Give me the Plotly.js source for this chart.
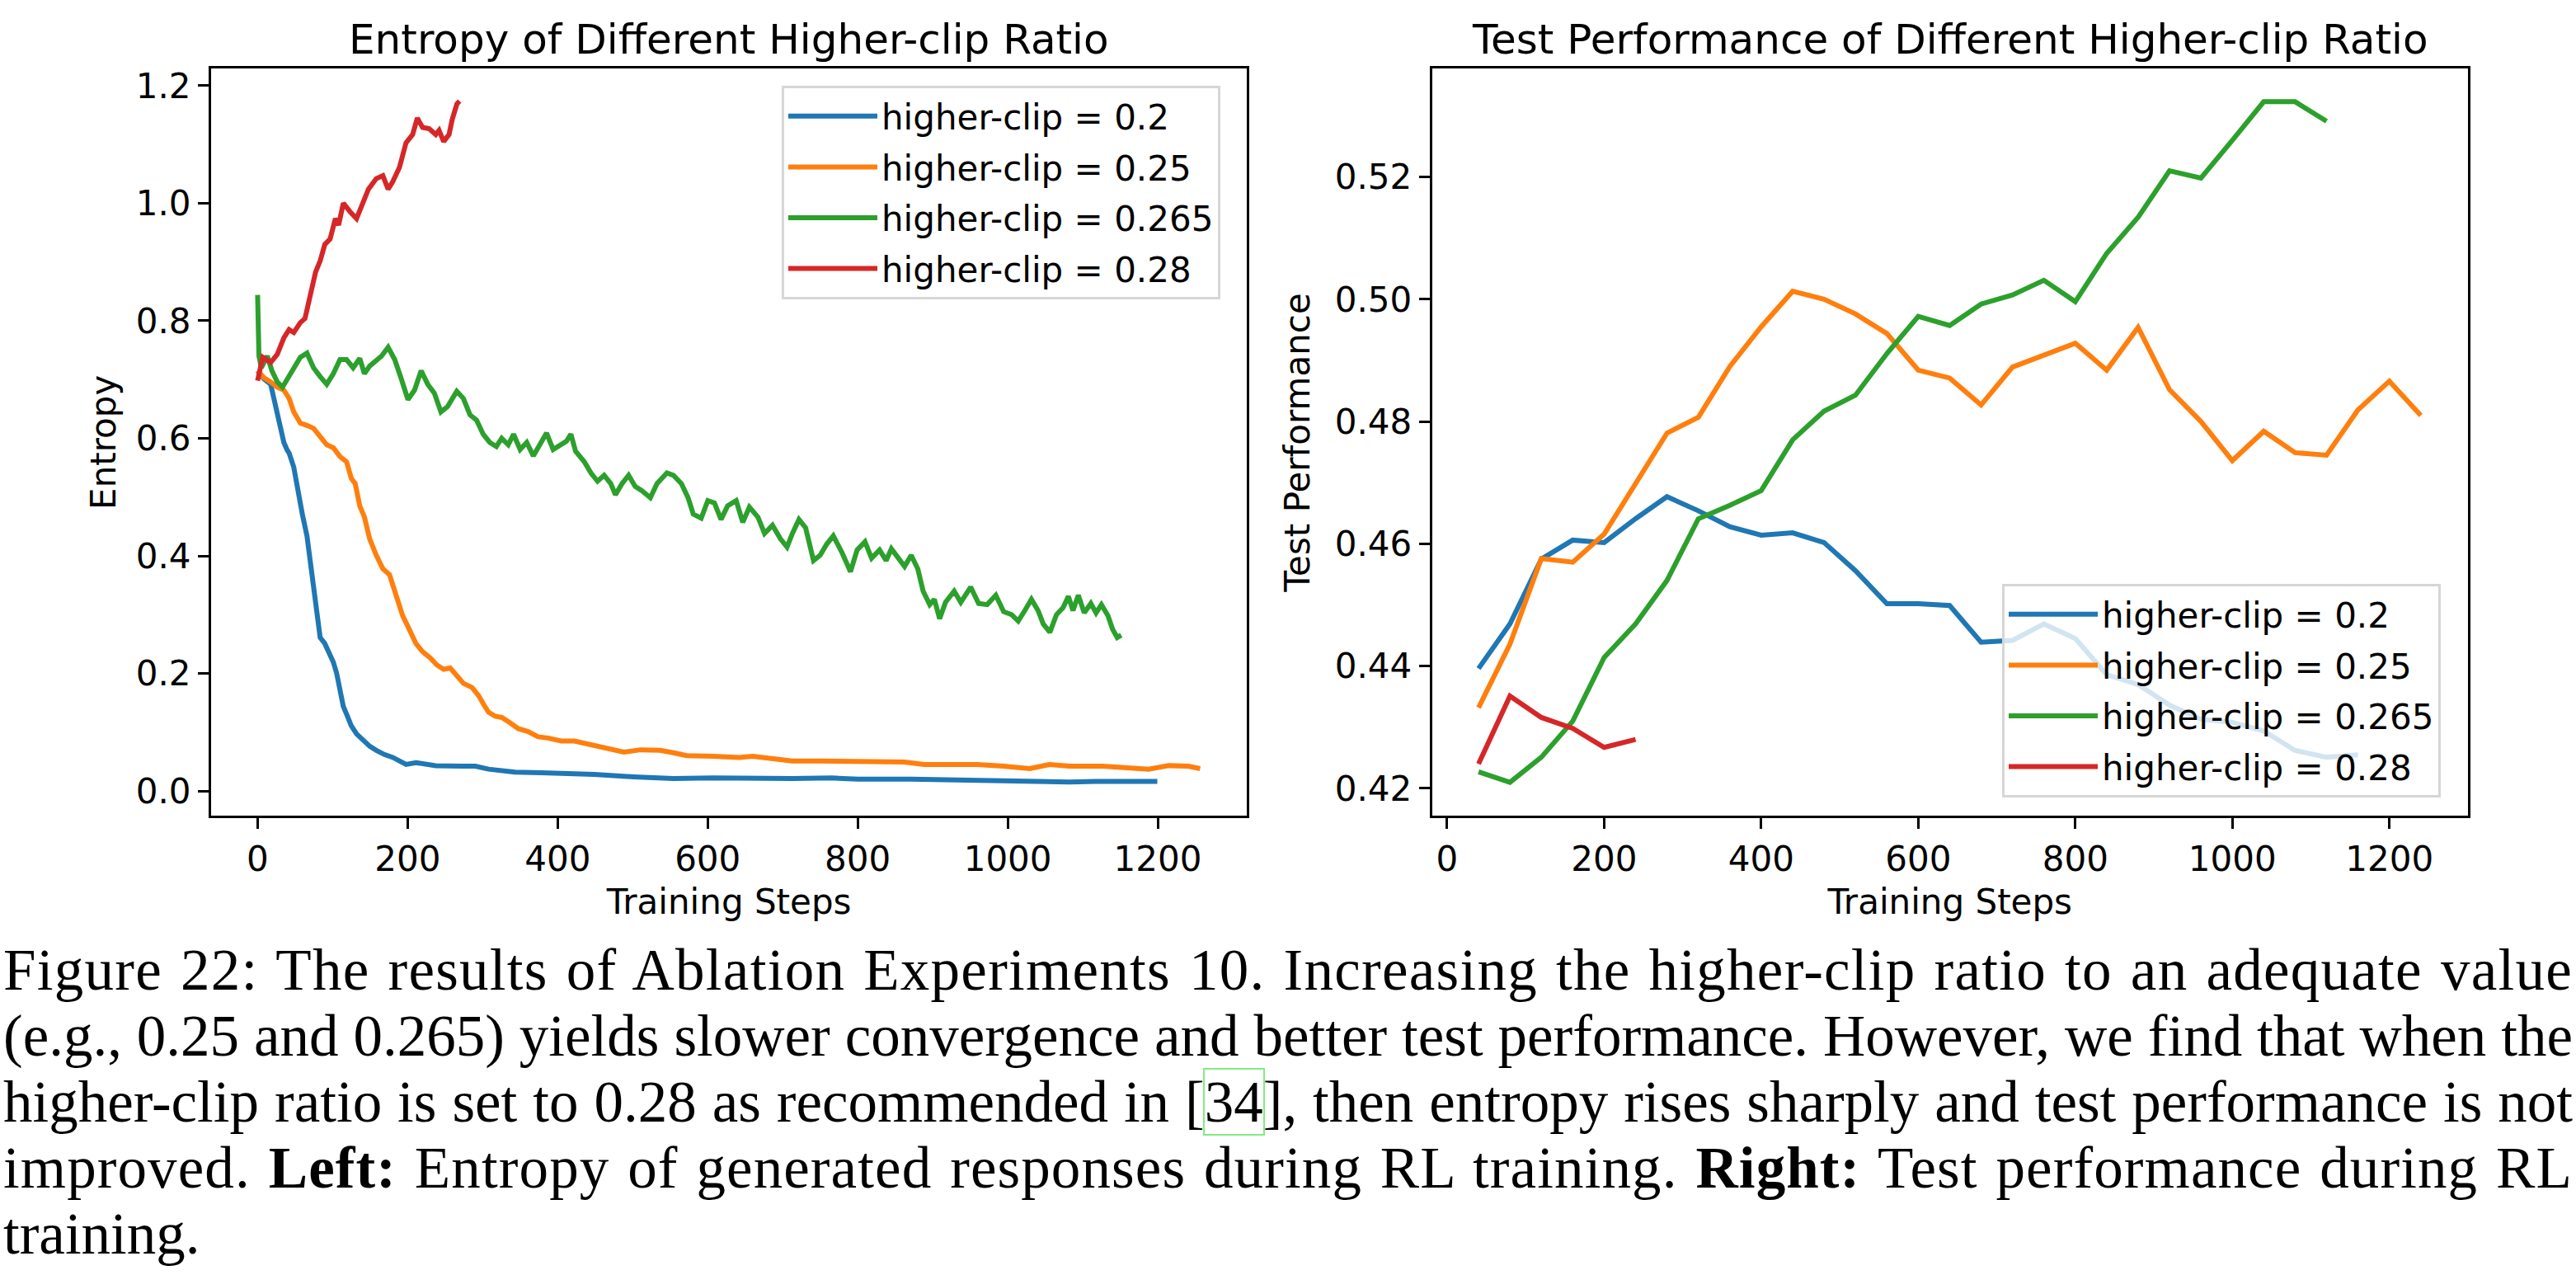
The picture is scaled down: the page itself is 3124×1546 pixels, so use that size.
<!DOCTYPE html>
<html>
<head>
<meta charset="utf-8">
<script src="https://cdn.plot.ly/plotly-3.0.1.min.js"></script>
<style>
  html, body { margin: 0; padding: 0; background: #ffffff; }
  #wrap { position: relative; width: 3124px; height: 1546px; overflow: hidden; background: #fff; }
  #chart { position: absolute; left: 0; top: 0; width: 3124px; height: 1546px; }
  #caption { position: absolute; left: 4px; top: 1136px; width: 3116px;
             font-family: "Liberation Serif", "DejaVu Serif", serif; font-size: 71px;
             line-height: 80px; color: #000; }
  .ln { white-space: nowrap; display: block; }
  .ln b { font-weight: bold; }
  .cite { outline: 2px solid rgb(130, 235, 130); outline-offset: 0px; }
</style>
</head>
<body>
<div id="wrap">
  <div id="chart"></div>
  <div id="caption">
    <div class="ln"><span>Figure 22: The results of Ablation Experiments 10. Increasing the higher-clip ratio to an adequate value</span></div>
    <div class="ln"><span>(e.g., 0.25 and 0.265) yields slower convergence and better test performance. However, we find that when the</span></div>
    <div class="ln"><span>higher-clip ratio is set to 0.28 as recommended in [<span class="cite">34</span>], then entropy rises sharply and test performance is not</span></div>
    <div class="ln"><span>improved. <b>Left:</b> Entropy of generated responses during RL training. <b>Right:</b> Test performance during RL</span></div>
    <div class="ln last"><span>training.</span></div>
  </div>
</div>
<script>
// ---------------- Left panel: entropy ----------------
const entropyLabels = ['higher-clip = 0.2', 'higher-clip = 0.25', 'higher-clip = 0.265', 'higher-clip = 0.28'];
const colors = ['#1f77b4', '#ff7f0e', '#2ca02c', '#d62728'];

const entStep_020 = [0, 8.6, 17.4, 21.8, 26.2, 30.6, 35, 39.4, 42, 48.2, 52.6, 59.6, 65.8, 70.2, 74.6, 79, 83.4, 89.5, 94.8, 101, 105.4, 109.8, 114.2, 120.4, 124.8, 131.9, 140.7, 149.5, 158.3, 168.9, 180.3, 189.1, 197.9, 211.1, 237.5, 272.7, 290.3, 307.9, 343.1, 378.3, 413.5, 448.7, 501.5, 554.3, 607.1, 659.9, 712.7, 765.5, 800.7, 871.1, 941.5, 1011.9, 1038.3, 1082.3, 1117.5, 1199.4];
const entropy_020 = [0.715, 0.701, 0.692, 0.668, 0.640, 0.612, 0.593, 0.580, 0.575, 0.551, 0.518, 0.471, 0.434, 0.387, 0.340, 0.298, 0.261, 0.251, 0.237, 0.219, 0.200, 0.167, 0.144, 0.125, 0.111, 0.097, 0.085, 0.076, 0.069, 0.062, 0.057, 0.051, 0.045, 0.048, 0.043, 0.042, 0.042, 0.037, 0.032, 0.031, 0.030, 0.028, 0.024, 0.021, 0.022, 0.021, 0.021, 0.022, 0.020, 0.020, 0.018, 0.017, 0.015, 0.015, 0.016, 0.016];

const entStep_025 = [0, 8.6, 17.4, 26.2, 35, 42, 48.2, 57, 65.8, 74.6, 83.4, 92.2, 101, 109.8, 118.6, 124.9, 130.1, 136.2, 142.4, 149.4, 158.2, 167, 175.8, 184.6, 193.4, 202.2, 211, 219.8, 230.4, 239.2, 248, 256.8, 265.6, 274.4, 285.9, 294.7, 300.9, 307.9, 316.7, 325.5, 334.3, 347.5, 360.7, 373.9, 387.1, 404.7, 422.3, 439.9, 457.5, 475.1, 488.3, 510.3, 536.7, 554.3, 571.9, 607.1, 642.3, 659.9, 686.3, 712.7, 747.9, 783.1, 818.3, 862.3, 888.7, 923.9, 959.1, 994.3, 1029.5, 1055.9, 1082.3, 1126.3, 1170.3, 1187.9, 1214.3, 1240.7, 1256.5];
const entropy_025 = [0.715, 0.703, 0.696, 0.687, 0.682, 0.668, 0.645, 0.626, 0.622, 0.617, 0.603, 0.589, 0.584, 0.569, 0.560, 0.532, 0.523, 0.485, 0.466, 0.429, 0.401, 0.378, 0.368, 0.335, 0.298, 0.275, 0.251, 0.237, 0.226, 0.214, 0.207, 0.209, 0.197, 0.183, 0.176, 0.162, 0.148, 0.134, 0.127, 0.125, 0.118, 0.106, 0.101, 0.092, 0.090, 0.085, 0.085, 0.080, 0.076, 0.071, 0.066, 0.070, 0.069, 0.065, 0.060, 0.059, 0.057, 0.059, 0.055, 0.051, 0.051, 0.050, 0.049, 0.049, 0.045, 0.045, 0.045, 0.042, 0.038, 0.045, 0.042, 0.042, 0.038, 0.037, 0.043, 0.042, 0.038];

const entStep_0265 = [0, 1.8, 5, 13, 19.1, 26.2, 33.2, 39.4, 48.2, 57, 65.8, 74.6, 83.4, 92.2, 101, 109.8, 118.6, 127.4, 136.2, 142.4, 149.4, 158.2, 165.2, 174, 182.8, 191.6, 200.4, 209.2, 218, 226.8, 235.6, 244.4, 253.2, 265.5, 274.3, 283.1, 291.9, 300.7, 309.5, 318.3, 325.4, 334.2, 341.2, 350, 358.8, 367.6, 376.4, 385.2, 394, 402.8, 411.6, 417.7, 423.9, 435.6, 444.4, 453.2, 462, 470.8, 477, 485.8, 494.6, 503.4, 512.2, 523.6, 532.4, 545.6, 554.4, 565, 573.8, 580.8, 591.4, 600.2, 609, 617.8, 626.6, 638, 646.8, 655.6, 667, 675.8, 686.4, 697, 705.8, 712.9, 721.7, 730.5, 741.1, 749.9, 758.7, 767.5, 778.9, 790.4, 799.2, 809.7, 818.5, 829.1, 837.9, 844.9, 853.7, 862.5, 871.3, 880.1, 887.2, 896, 902.2, 909.2, 917.1, 928.6, 937.4, 950.6, 961.2, 972.6, 984.1, 994.6, 1005.2, 1014, 1022.8, 1031.6, 1040.4, 1047.4, 1056.2, 1065, 1073.8, 1080.9, 1087, 1094.1, 1102, 1110.8, 1117.8, 1124.9, 1133.7, 1139.8, 1146, 1151.3];
const entropy_0265 = [0.844, 0.740, 0.720, 0.740, 0.715, 0.696, 0.687, 0.701, 0.717, 0.738, 0.745, 0.720, 0.705, 0.692, 0.710, 0.734, 0.734, 0.720, 0.736, 0.710, 0.723, 0.734, 0.740, 0.755, 0.734, 0.701, 0.666, 0.682, 0.715, 0.692, 0.677, 0.645, 0.654, 0.680, 0.668, 0.640, 0.631, 0.607, 0.593, 0.586, 0.600, 0.589, 0.607, 0.581, 0.593, 0.570, 0.591, 0.609, 0.581, 0.589, 0.595, 0.607, 0.578, 0.560, 0.541, 0.527, 0.537, 0.523, 0.504, 0.523, 0.537, 0.518, 0.511, 0.499, 0.523, 0.541, 0.537, 0.523, 0.499, 0.471, 0.464, 0.494, 0.490, 0.462, 0.485, 0.494, 0.457, 0.483, 0.466, 0.438, 0.452, 0.429, 0.415, 0.438, 0.462, 0.448, 0.392, 0.401, 0.420, 0.434, 0.406, 0.373, 0.410, 0.424, 0.396, 0.410, 0.392, 0.412, 0.396, 0.382, 0.401, 0.378, 0.340, 0.317, 0.326, 0.293, 0.321, 0.340, 0.321, 0.347, 0.319, 0.317, 0.333, 0.305, 0.300, 0.289, 0.307, 0.326, 0.307, 0.284, 0.270, 0.300, 0.312, 0.331, 0.307, 0.333, 0.303, 0.319, 0.303, 0.317, 0.298, 0.275, 0.261, 0.265];

const entStep_028 = [0, 6.8, 17.4, 26.2, 35, 42, 48.2, 57, 63.2, 70.2, 77.3, 83.4, 89.6, 96.6, 103.7, 108, 114.3, 123, 131.9, 138.9, 147.7, 158.2, 167, 174, 180.3, 189.1, 197.9, 206.7, 212.9, 219.9, 228.7, 237.5, 241.9, 248, 255.2, 259.5, 265.7, 269.2];
const entropy_028 = [0.698, 0.738, 0.729, 0.743, 0.771, 0.785, 0.780, 0.797, 0.804, 0.841, 0.883, 0.902, 0.930, 0.939, 0.974, 0.963, 1.000, 0.986, 0.974, 0.996, 1.024, 1.042, 1.047, 1.024, 1.037, 1.061, 1.103, 1.117, 1.145, 1.129, 1.127, 1.117, 1.124, 1.105, 1.117, 1.143, 1.169, 1.174];

// ---------------- Right panel: test performance ----------------
const testSteps = [40, 80, 120, 160, 200, 240, 280, 320, 360, 400, 440, 480, 520, 560, 600, 640, 680, 720, 760, 800, 840, 880, 920, 960, 1000, 1040, 1080, 1120, 1160, 1200, 1240];
const test_020 = [0.4396, 0.4469, 0.4575, 0.4606, 0.4602, 0.4641, 0.4677, 0.4654, 0.4628, 0.4614, 0.4618, 0.4602, 0.4556, 0.4502, 0.4502, 0.4499, 0.4439, 0.4442, 0.4469, 0.4445, 0.4386, 0.4370, 0.4336, 0.4313, 0.4308, 0.4294, 0.4262, 0.4251, 0.4255];
const test_025 = [0.4332, 0.4436, 0.4576, 0.4570, 0.4616, 0.4698, 0.4781, 0.4807, 0.4890, 0.4955, 0.5013, 0.5000, 0.4976, 0.4944, 0.4884, 0.4871, 0.4827, 0.4889, 0.4909, 0.4928, 0.4884, 0.4954, 0.4852, 0.4800, 0.4736, 0.4784, 0.4749, 0.4745, 0.4819, 0.4866, 0.4810];
const test_0265 = [0.4227, 0.4210, 0.4251, 0.4310, 0.4414, 0.4469, 0.4540, 0.4641, 0.4663, 0.4687, 0.4770, 0.4817, 0.4843, 0.4911, 0.4972, 0.4957, 0.4992, 0.5007, 0.5031, 0.4996, 0.5075, 0.5134, 0.5210, 0.5198, 0.5260, 0.5323, 0.5323, 0.5291];
const test_028 = [0.4240, 0.4351, 0.4316, 0.4298, 0.4267, 0.4280];

const xTickVals = [0, 200, 400, 600, 800, 1000, 1200];
const entTickVals = [0.0, 0.2, 0.4, 0.6, 0.8, 1.0, 1.2];
const testTickVals = [0.42, 0.44, 0.46, 0.48, 0.50, 0.52];

const leftTitle = 'Entropy of Different Higher-clip Ratio';
const rightTitle = 'Test Performance of Different Higher-clip Ratio';

// ---------------- build ----------------
const W = 3124, H = 1546;
const LW = 6;
const leftX = [entStep_020, entStep_025, entStep_0265, entStep_028];
const leftY = [entropy_020, entropy_025, entropy_0265, entropy_028];
const rightY = [test_020, test_025, test_0265, test_028];

const traces = [];
for (let i = 0; i < 4; i++) {
  traces.push({
    type: 'scatter', mode: 'lines', x: leftX[i], y: leftY[i],
    name: entropyLabels[i], line: {color: colors[i], width: LW},
    xaxis: 'x', yaxis: 'y', legend: 'legend', legendgroup: 'L' + i
  });
}
for (let i = 0; i < 4; i++) {
  traces.push({
    type: 'scatter', mode: 'lines', x: testSteps.slice(0, rightY[i].length), y: rightY[i],
    name: entropyLabels[i], line: {color: colors[i], width: LW},
    xaxis: 'x2', yaxis: 'y2', legend: 'legend2', legendgroup: 'R' + i
  });
}

const px = v => v / W;
const py = v => (H - v) / H;

const axCommon = {
  showline: true, mirror: true, linecolor: '#000', linewidth: 3,
  ticks: 'outside', ticklen: 13, tickwidth: 3, tickcolor: '#000',
  showgrid: false, zeroline: false,
  tickfont: {family: 'DejaVu Sans', size: 42, color: '#000'},
  fixedrange: true
};
const xDomL = [px(256), px(1512.3)];
const xDomR = [px(1736.7), px(2992.7)];
const yDom = [py(989.3), py(83.3)];

const legendCommon = {
  xanchor: 'left', yanchor: 'top',
  bgcolor: 'rgba(255,255,255,0.8)', bordercolor: '#d6d6d6', borderwidth: 3,
  font: {family: 'DejaVu Sans', size: 42, color: '#000'},
  itemwidth: 108, tracegroupgap: 4
};

const layout = {
  width: W, height: H,
  margin: {l: 0, r: 0, t: 0, b: 0, pad: 0},
  paper_bgcolor: '#ffffff', plot_bgcolor: '#ffffff',
  font: {family: 'DejaVu Sans', color: '#000'},
  showlegend: true,
  xaxis: Object.assign({}, axCommon, {
    domain: xDomL, anchor: 'y', range: [-62, 1319], tickvals: xTickVals,
    title: {text: 'Training Steps', font: {family: 'DejaVu Sans', size: 42, color: '#000'}, standoff: 14}
  }),
  yaxis: Object.assign({}, axCommon, {
    domain: yDom, anchor: 'x', range: [-0.0425, 1.229], tickvals: entTickVals, tickformat: '.1f',
    title: {text: 'Entropy', font: {family: 'DejaVu Sans', size: 42, color: '#000'}, standoff: 12}
  }),
  xaxis2: Object.assign({}, axCommon, {
    domain: xDomR, anchor: 'y2', range: [-19.2, 1299.8], tickvals: xTickVals,
    title: {text: 'Training Steps', font: {family: 'DejaVu Sans', size: 42, color: '#000'}, standoff: 14}
  }),
  yaxis2: Object.assign({}, axCommon, {
    domain: yDom, anchor: 'x2', range: [0.4155, 0.5377], tickvals: testTickVals, tickformat: '.2f',
    title: {text: 'Test Performance', font: {family: 'DejaVu Sans', size: 42, color: '#000'}, standoff: 18}
  }),
  legend: Object.assign({}, legendCommon, {x: px(948), y: py(104)}),
  legend2: Object.assign({}, legendCommon, {x: px(2428), y: py(708)}),
  annotations: [
    {text: leftTitle, xref: 'paper', yref: 'paper', x: px(884.2), y: py(48),
     xanchor: 'center', yanchor: 'middle', showarrow: false,
     font: {family: 'DejaVu Sans', size: 50, color: '#000'}},
    {text: rightTitle, xref: 'paper', yref: 'paper', x: px(2364.7), y: py(48),
     xanchor: 'center', yanchor: 'middle', showarrow: false,
     font: {family: 'DejaVu Sans', size: 50, color: '#000'}}
  ]
};

Plotly.newPlot('chart', traces, layout, {staticPlot: true, displayModeBar: false});

// justify caption lines to full width: keep word gaps modest, spread the rest as letter spacing
function justifyCaption() {
  const target = 3116, maxExtraWord = 3;
  document.querySelectorAll('#caption .ln').forEach(ln => {
    if (ln.classList.contains('last')) return;
    const span = ln.firstElementChild;
    span.style.wordSpacing = '0px';
    span.style.letterSpacing = '0px';
    const txt = span.textContent;
    const n = txt.length;
    const s = (txt.match(/ /g) || []).length;
    let w = span.getBoundingClientRect().width;
    const slack = target - w;
    if (slack > s * maxExtraWord) {
      span.style.letterSpacing = ((slack - s * maxExtraWord) / n) + 'px';
      w = span.getBoundingClientRect().width;
    }
    if (s > 0) span.style.wordSpacing = ((target - w) / s) + 'px';
  });
}
if (document.fonts && document.fonts.ready) { document.fonts.ready.then(justifyCaption); }
justifyCaption();
</script>
</body>
</html>
